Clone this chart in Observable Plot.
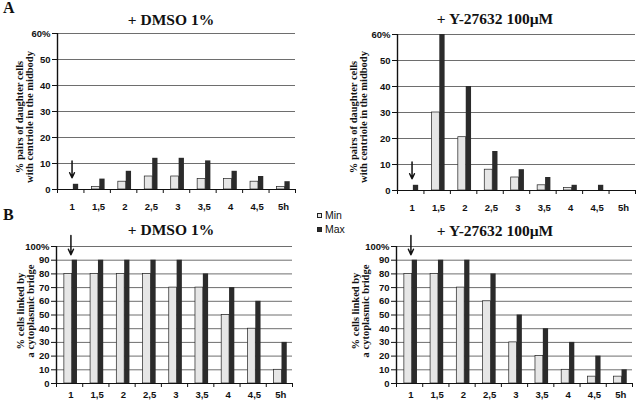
<!DOCTYPE html>
<html>
<head>
<meta charset="utf-8">
<script src="https://cdn.jsdelivr.net/npm/d3@7"></script>
<script src="https://cdn.jsdelivr.net/npm/@observablehq/plot@0.6"></script>
<style>
  html, body { margin: 0; padding: 0; background: #fff; }
  #root { position: relative; width: 640px; height: 404px; overflow: hidden; background: #fff; }
  .abs { position: absolute; }
  .title { font-family: "Liberation Serif", "Times New Roman", serif; font-weight: bold; font-size: 15.5px; color: #111; white-space: nowrap; transform: translateX(-50%); }
  .letter { font-family: "Liberation Serif", "Times New Roman", serif; font-weight: bold; font-size: 16px; color: #111; }
  .ylab { font-family: "Liberation Serif", "Times New Roman", serif; font-weight: bold; font-size: 10.5px; line-height: 10px; color: #111; white-space: nowrap; text-align: center; transform: translate(-50%, -50%) rotate(-90deg); }
  .legend { font-family: "Liberation Sans", Arial, sans-serif; font-size: 10.5px; color: #111; display: flex; align-items: center; gap: 3px; }
  .sw { width: 5px; height: 5px; box-sizing: border-box; }
</style>
</head>
<body>
<div id="root"></div>
<script>
// ---- data ----
const times = ["1", "1,5", "2", "2,5", "3", "3,5", "4", "4,5", "5h"];
const seriesNames = ["Min", "Max"];

const centrioleDmsoMin = [0, 1, 3, 5, 5, 4, 4, 3, 1];
const centrioleDmsoMax = [2, 4, 7, 12, 12, 11, 7, 5, 3];
const centrioleY27Min  = [0, 30, 20.5, 8, 5, 2, 1, 0, 0];
const centrioleY27Max  = [2, 60, 40, 15, 8, 5, 2, 2, 0];

const bridgeDmsoMin = [80, 80, 80, 80, 70, 70, 50, 40, 10];
const bridgeDmsoMax = [90, 90, 90, 90, 90, 80, 70, 60, 30];
const bridgeY27Min  = [80, 80, 70, 60, 30, 20, 10, 5, 5];
const bridgeY27Max  = [90, 90, 90, 80, 50, 40, 30, 20, 10];

const ticksA = [0, 10, 20, 30, 40, 50, 60];
const ticksB = [0, 10, 20, 30, 40, 50, 60, 70, 80, 90, 100];

// arrow markers (time category, arrow start value, arrow tip value)
const arrowA = [{time: "1", from: 11, to: 4.5}];
const arrowB = [{time: "1", from: 108, to: 94}];

const titles = ["+ DMSO 1%", "+ Y-27632 100\u00b5M"];
const yLabelA = ["% pairs of daughter cells", "with centriole in the midbody"];
const yLabelB = ["% cells linked by", "a cytoplasmic bridge"];

// ---- drawing ----
const root = document.getElementById("root");
const LIGHT = "#e6e6e6", DARK = "#2b2b2b";

function panel(opts) {
  const rows = times.map((t, i) => ({time: t, i, min: opts.min[i], max: opts.max[i]}));
  const idx = t => times.indexOf(t);
  const top = opts.ticks[opts.ticks.length - 1];
  const svg = Plot.plot({
    width: opts.width, height: opts.height,
    marginLeft: opts.ml, marginRight: opts.mr, marginTop: opts.mt, marginBottom: opts.mb,
    style: {fontFamily: "'Liberation Sans', Arial, sans-serif", fontSize: "9px", background: "transparent", overflow: "visible", color: "#111"},
    x: {domain: [0, times.length], axis: null},
    y: {domain: [0, top], axis: null},
    marks: [
      Plot.gridY(opts.ticks.filter(d => d > 0), {stroke: "#6e6e6e", strokeOpacity: 1, strokeWidth: 1}),
      Plot.rectY(rows.filter(d => d.min > 0), {x1: d => d.i + 0.3, x2: d => d.i + 0.6, y: "min", fill: LIGHT, stroke: "#222", strokeWidth: 0.7}),
      Plot.rectY(rows.filter(d => d.max > 0), {x1: d => d.i + 0.6, x2: d => d.i + 0.8, y: "max", fill: DARK}),
      Plot.ruleY([0], {stroke: "#111", strokeWidth: 1.2}),
      Plot.ruleX([0], {stroke: "#111", strokeWidth: 1.4}),
      Plot.axisY({ticks: opts.ticks, tickFormat: d => d === top ? d + "%" : String(d), tickSize: 5, tickPadding: 2, fontSize: 9.5, fontWeight: 600}),
      Plot.axisX({ticks: d3.range(0, times.length + 1), tickFormat: () => "", tickSize: 4}),
      Plot.axisX({ticks: times.map((t, i) => i + 0.55), tickFormat: d => times[Math.round(d - 0.55)], tickSize: 0, tickPadding: opts.labelPad, fontSize: 9.5, fontWeight: 600}),
      Plot.arrow(opts.arrow, {x1: d => idx(d.time) + 0.55, x2: d => idx(d.time) + 0.55, y1: "from", y2: "to", stroke: "#111", strokeWidth: 1.5, headLength: 6, headAngle: 50})
    ]
  });
  svg.classList.add("abs");
  svg.style.left = opts.left + "px";
  svg.style.top = opts.top + "px";
  root.appendChild(svg);
}

panel({min: centrioleDmsoMin, max: centrioleDmsoMax, ticks: ticksA, arrow: arrowA,
  left: 0, top: 0, width: 320, height: 215, ml: 57, mr: 25, mt: 33, mb: 26, labelPad: 14});
panel({min: centrioleY27Min, max: centrioleY27Max, ticks: ticksA, arrow: arrowA,
  left: 320, top: 0, width: 320, height: 215, ml: 77, mr: 5, mt: 34, mb: 25, labelPad: 14});
panel({min: bridgeDmsoMin, max: bridgeDmsoMax, ticks: ticksB, arrow: arrowB,
  left: 0, top: 200, width: 320, height: 204, ml: 56, mr: 28, mt: 46, mb: 21, labelPad: 8});
panel({min: bridgeY27Min, max: bridgeY27Max, ticks: ticksB, arrow: arrowB,
  left: 320, top: 200, width: 320, height: 204, ml: 76, mr: 8, mt: 46, mb: 21, labelPad: 8});

function addDiv(cls, html, styles) {
  const d = document.createElement("div");
  d.className = "abs " + cls;
  d.innerHTML = html;
  Object.assign(d.style, styles);
  root.appendChild(d);
  return d;
}

// panel letters
addDiv("letter", "A", {left: "3px", top: "-1px"});
addDiv("letter", "B", {left: "3px", top: "206px"});

// titles
addDiv("title", titles[0], {left: "171px", top: "11px"});
addDiv("title", titles[1], {left: "495px", top: "10px"});
addDiv("title", titles[0], {left: "171px", top: "221px"});
addDiv("title", titles[1], {left: "495px", top: "222px"});

// y labels
addDiv("ylab", yLabelA.join("<br>"), {left: "25px", top: "117px"});
addDiv("ylab", yLabelA.join("<br>"), {left: "359px", top: "117px"});
addDiv("ylab", yLabelB.join("<br>"), {left: "26px", top: "311px"});
addDiv("ylab", yLabelB.join("<br>"), {left: "361px", top: "311px"});

// legend
const lg = [{name: seriesNames[0], fill: LIGHT, top: 209}, {name: seriesNames[1], fill: DARK, top: 223}];
lg.forEach(s => {
  addDiv("legend", `<div class="sw" style="background:${s.fill};border:0.8px solid #222"></div><span>${s.name}</span>`, {left: "317px", top: s.top + "px"});
});
</script>
</body>
</html>
